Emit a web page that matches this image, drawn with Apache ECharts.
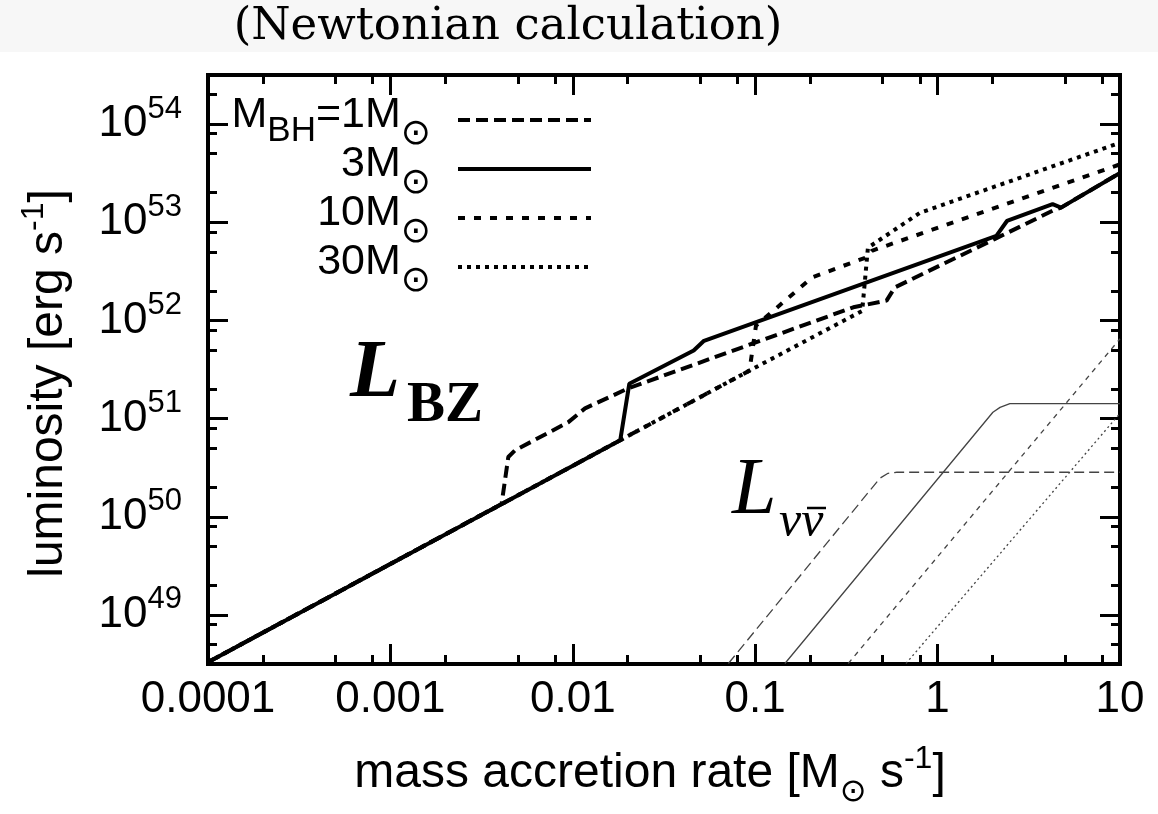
<!DOCTYPE html>
<html>
<head>
<meta charset="utf-8">
<script src="https://cdn.jsdelivr.net/npm/echarts@6/dist/echarts.min.js"></script>
<style>html,body{margin:0;padding:0;background:#fff;}#main{width:1158px;height:814px;}</style>
</head>
<body>
<div id="main"></div>
<script>
// ---- axis ticks ----
const xTickValues = [1e-4, 1e-3, 1e-2, 1e-1, 1, 10];
const xTickLabels = ['0.0001', '0.001', '0.01', '0.1', '1', '10'];
const yTickExponents = [49, 50, 51, 52, 53, 54];
const minorMultipliers = [2, 5, 8];

// ---- L_BZ curves (mass accretion rate [Msun/s], luminosity [erg/s]) ----
const bz1Mdot = [1e-4, 0.00407, 0.00443, 0.00482, 0.00942, 0.01167, 0.0201, 0.345, 0.525, 0.583, 2.05, 4.27, 4.75, 10];
const bz1L    = [3.3e48, 1.35e50, 4.06e50, 4.75e50, 9.15e50, 1.27e51, 2.03e51, 1.36e52, 1.59e52, 2.17e52, 6.73e52, 1.31e53, 1.41e53, 3.18e53];

const bz3Mdot = [1e-4, 0.0182, 0.0204, 0.046, 0.0524, 2.10, 2.40, 4.27, 4.75, 10];
const bz3L    = [3.3e48, 6.0e50, 2.26e51, 4.93e51, 6.2e51, 7.27e52, 1.03e53, 1.53e53, 1.41e53, 3.18e53];

const bz10Mdot = [1e-4, 0.093, 0.101, 0.205, 0.405, 0.436, 10];
const bz10L    = [3.3e48, 3.08e51, 8.85e51, 2.74e52, 4.38e52, 5.12e52, 3.89e53];

const bz30Mdot = [1e-4, 0.093, 0.386, 0.415, 0.802, 10];
const bz30L    = [3.3e48, 3.08e51, 1.25e52, 5.5e52, 1.25e53, 6.46e53];

// ---- L_nu-nubar curves ----
const nu1Mdot = [0.0713, 0.483, 0.535, 0.598, 10];
const nu1L    = [3.2e48, 2.47e50, 2.77e50, 2.84e50, 2.84e50];

const nu3Mdot = [0.1455, 2.01, 2.2, 2.49, 10];
const nu3L    = [3.2e48, 1.16e51, 1.30e51, 1.42e51, 1.42e51];

const nu10Mdot = [0.3236, 10];
const nu10L    = [3.2e48, 6.5e51];

const nu30Mdot = [0.671, 10];
const nu30L    = [3.2e48, 1.13e51];

const legendNames = ['1M', '3M', '10M', '30M'];
const legendTexts = {
  '1M': '{m|M}{s|BH}{m|=1M}{o|\u2299}{g| }',
  '3M': '{m|3M}{o|\u2299}{g| }',
  '10M': '{m|10M}{o|\u2299}{g| }',
  '30M': '{m|30M}{o|\u2299}{g| }'
};

function pairs(xs, ys) { return xs.map((x, i) => [x, ys[i]]); }

const xMinor = [];
for (let e = -4; e <= 0; e++) minorMultipliers.forEach(m => xMinor.push(m * Math.pow(10, e)));
const yMajor = yTickExponents.map(e => Math.pow(10, e));
const yMinor = [];
for (let e = 48; e <= 54; e++) minorMultipliers.forEach(m => {
  const v = m * Math.pow(10, e);
  if (v > Math.pow(10, 48.5) && v < Math.pow(10, 54.5)) yMinor.push(v);
});

const X_MIN = 1e-4, X_MAX = 10, Y_MIN = Math.pow(10, 48.5), Y_MAX = Math.pow(10, 54.5);
const SANS = 'Liberation Sans';

function xAxisDef(pos, major, withLabel) {
  return {
    type: 'log', position: pos, min: X_MIN, max: X_MAX,
    axisLine: { show: false },
    splitLine: { show: false },
    axisTick: { show: true, inside: true, length: major ? 20 : 9, customValues: major ? xTickValues : xMinor,
                lineStyle: { color: '#000', width: 3 } },
    axisLabel: withLabel ? {
      show: true, customValues: xTickValues, margin: 14,
      fontFamily: SANS, fontSize: 44, color: '#000',
      formatter: function (v) {
        const lg = Math.log10(v);
        let best = 0;
        xTickValues.forEach((t, i) => { if (Math.abs(Math.log10(t) - lg) < Math.abs(Math.log10(xTickValues[best]) - lg)) best = i; });
        return xTickLabels[best];
      }
    } : { show: false },
    name: withLabel ? '{t|mass accretion rate [M}{sub|\u2299}{t| s}{sup|-1}{t|]}' : '',
    nameLocation: 'middle', nameGap: 86,
    nameTextStyle: {
      color: '#000', padding: [0, 28, 0, 0],
      rich: {
        t: { fontFamily: SANS, fontSize: 48, color: '#000' },
        sub: { fontFamily: 'DejaVu Sans', fontSize: 32, color: '#000', lineHeight: 32, padding: [38, 0, 0, 0] },
        sup: { fontFamily: SANS, fontSize: 32, color: '#000', lineHeight: 32, padding: [0, 0, 30, 0] }
      }
    }
  };
}
function yAxisDef(pos, major, withLabel) {
  return {
    type: 'log', position: pos, min: Y_MIN, max: Y_MAX,
    axisLine: { show: false },
    splitLine: { show: false },
    axisTick: { show: true, inside: true, length: major ? 20 : 9, customValues: major ? yMajor : yMinor,
                lineStyle: { color: '#000', width: 3 } },
    axisLabel: withLabel ? {
      show: true, customValues: yMajor, margin: 26,
      formatter: function (v) { return '{b|10}{s|' + Math.round(Math.log10(v)) + '}'; },
      rich: {
        b: { fontFamily: SANS, fontSize: 44, color: '#000' },
        s: { fontFamily: SANS, fontSize: 31, color: '#000', padding: [0, 0, 30, 0] }
      }
    } : { show: false },
    name: withLabel ? '{t|luminosity [erg s}{sup|-1}{t|]}' : '',
    nameLocation: 'middle', nameGap: 128, nameRotate: 90,
    nameTextStyle: {
      color: '#000', padding: [0, 28, 0, 0],
      rich: {
        t: { fontFamily: SANS, fontSize: 48, color: '#000' },
        sup: { fontFamily: SANS, fontSize: 32, color: '#000', padding: [0, 0, 30, 0] }
      }
    }
  };
}

function thick(name, xs, ys, type) {
  return { name: name, type: 'line', data: pairs(xs, ys), symbol: 'none', showSymbol: false,
           xAxisIndex: 0, yAxisIndex: 0, z: 5,
           lineStyle: { color: '#000', width: 4, type: type }, itemStyle: { color: '#000', opacity: 0 } };
}
function thin(name, xs, ys, type) {
  return { name: name, type: 'line', data: pairs(xs, ys), symbol: 'none', showSymbol: false,
           xAxisIndex: 0, yAxisIndex: 0, z: 3,
           lineStyle: { color: '#444', width: 1.3, type: type }, itemStyle: { color: '#444', opacity: 0 } };
}

const chart = echarts.init(document.getElementById('main'), null, { renderer: 'canvas' });
chart.setOption({
  animation: false,
  backgroundColor: '#fff',
  grid: { left: 208, right: 38, top: 75, bottom: 150, show: true, borderColor: '#000', borderWidth: 4,
          containLabel: false, outerBoundsMode: 'none' },
  xAxis: [xAxisDef('bottom', true, true), xAxisDef('bottom', false, false), xAxisDef('top', true, false), xAxisDef('top', false, false)],
  yAxis: [yAxisDef('left', true, true), yAxisDef('left', false, false), yAxisDef('right', true, false), yAxisDef('right', false, false)],
  legend: {
    data: legendNames, orient: 'vertical', align: 'right', right: 565, top: 87, padding: 0,
    itemWidth: 133, itemHeight: 14, itemGap: -17, selectedMode: false,
    itemStyle: { opacity: 0, borderWidth: 0 },
    lineStyle: { width: 4 },
    formatter: function (n) { return legendTexts[n]; },
    textStyle: {
      color: '#000',
      rich: {
        m: { fontFamily: SANS, fontSize: 43, color: '#000', lineHeight: 44, padding: [0, 0, 10, 0] },
        s: { fontFamily: SANS, fontSize: 35, color: '#000', lineHeight: 36, padding: [22, 0, 0, 0] },
        o: { fontFamily: 'DejaVu Sans', fontSize: 36, color: '#000', lineHeight: 36, padding: [30, 0, 0, 0] },
        g: { width: 22, fontSize: 10 }
      }
    }
  },
  graphic: [
    { type: 'rect', z: -1, shape: { x: 0, y: 0, width: 1158, height: 52 }, style: { fill: '#f7f7f7' } },
    { type: 'text', z: 10, style: { text: '(Newtonian calculation)', x: 508, y: 27, textAlign: 'center', textVerticalAlign: 'middle',
      font: '45px "DejaVu Serif"', fill: '#000' } },
    { type: 'text', z: 10, style: { text: 'L', x: 350, y: 375, textAlign: 'left', textVerticalAlign: 'middle',
      font: 'italic bold 82px "Liberation Serif"', fill: '#000' } },
    { type: 'text', z: 10, style: { text: 'BZ', x: 407, y: 406, textAlign: 'left', textVerticalAlign: 'middle',
      font: 'bold 57px "Liberation Serif"', fill: '#000' } },
    { type: 'text', z: 10, style: { text: 'L', x: 732, y: 492, textAlign: 'left', textVerticalAlign: 'middle',
      font: 'italic 80px "Liberation Serif"', fill: '#000' } },
    { type: 'text', z: 10, style: { text: '\u03bd\u03bd', x: 779, y: 523, textAlign: 'left', textVerticalAlign: 'middle',
      font: 'italic 50px "Liberation Serif"', fill: '#000' } },
    { type: 'line', z: 10, shape: { x1: 807, y1: 508, x2: 826, y2: 508 }, style: { stroke: '#000', lineWidth: 2.5 } }
  ],
  series: [
    thin('nu1', nu1Mdot, nu1L, [10, 5]),
    thin('nu3', nu3Mdot, nu3L, 'solid'),
    thin('nu10', nu10Mdot, nu10L, [5, 5]),
    thin('nu30', nu30Mdot, nu30L, [2, 3]),
    thick('30M', bz30Mdot, bz30L, [4, 5]),
    thick('10M', bz10Mdot, bz10L, [7, 9]),
    thick('1M', bz1Mdot, bz1L, [12, 6]),
    thick('3M', bz3Mdot, bz3L, 'solid')
  ]
});
</script>
</body>
</html>
